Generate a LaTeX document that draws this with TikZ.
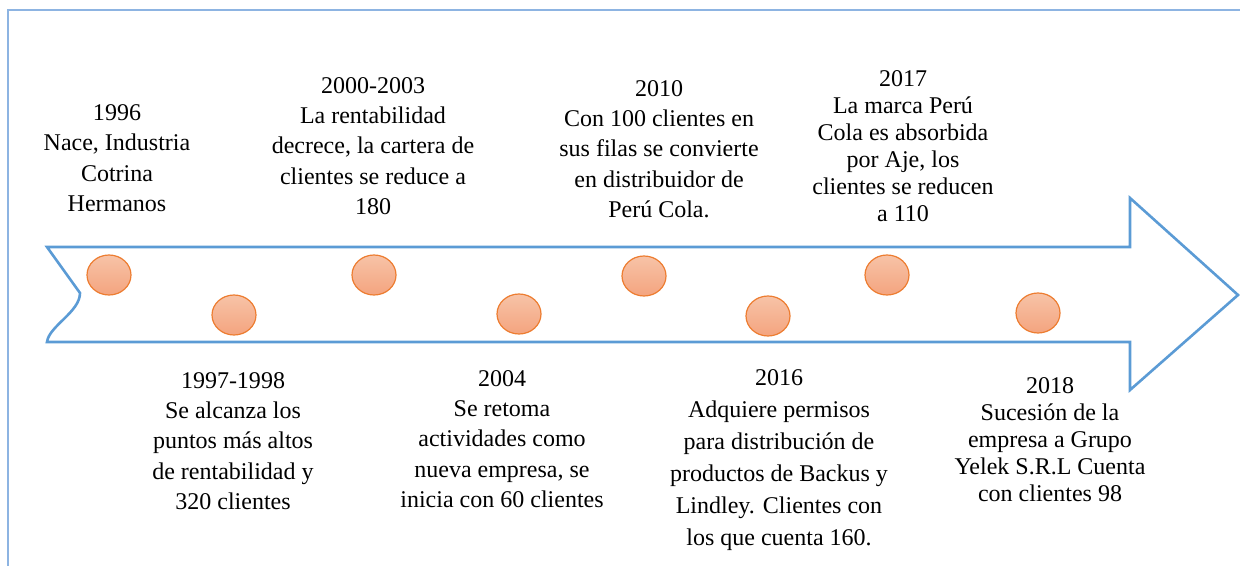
\documentclass[tikz,border=0pt]{standalone}
\usepackage{fontspec}
\setmainfont{Liberation Serif}
\usetikzlibrary{shapes.geometric}
\definecolor{arrowblue}{HTML}{5B9BD5}
\definecolor{frameblue}{HTML}{8DB4E2}
\definecolor{dotline}{HTML}{ED7D31}
\definecolor{dottop}{HTML}{F7C3A7}
\definecolor{dotbottom}{HTML}{F4A47F}

\begin{document}
\begin{tikzpicture}[x=0.5pt, y=-0.5pt,
  dot/.style={ellipse, draw=dotline, line width=0.6pt, top color=dottop, bottom color=dotbottom, minimum width=22pt, minimum height=20pt, inner sep=0pt},
  event/.style={align=center, font=\fontsize{12}{15.2}\selectfont, inner sep=0pt},
  tight/.style={font=\fontsize{12}{13.5}\selectfont}]
\useasboundingbox (0,0) rectangle (1240,566);
\draw[frameblue, line width=1pt] (8,566) -- (8,10) -- (1240,10);
\draw[arrowblue, line width=1.3pt] (47,247) -- (1130,247) -- (1130,198) -- (1238,295) -- (1130,390) -- (1130,342) -- (47,342) .. controls (49,326) and (80,312) .. (80,293) -- cycle;
\node[dot] (d1996) at (109,275) {};
\node[dot] (d1997) at (234,315) {};
\node[dot] (d2000) at (374,275) {};
\node[dot] (d2004) at (519,314) {};
\node[dot] (d2010) at (644,276) {};
\node[dot] (d2016) at (768,316) {};
\node[dot] (d2017) at (887,275) {};
\node[dot] (d2018) at (1038,313) {};
\node[event] (y1996) at (117,158) {1996\\Nace, Industria\\Cotrina\\Hermanos};
\node[event] (y2000) at (373,146) {2000-2003\\La rentabilidad\\decrece, la cartera de\\clientes se reduce a\\180};
\node[event] (y2010) at (659,149) {2010\\Con 100 clientes en\\sus filas se convierte\\en distribuidor de\\Perú Cola.};
\node[event, tight] (y2017) at (903,146) {2017\\La marca Perú\\Cola es absorbida\\por Aje, los\\clientes se reducen\\a 110};
\node[event] (y1997) at (233,441) {1997-1998\\Se alcanza los\\puntos más altos\\de rentabilidad y\\320 clientes};
\node[event] (y2004) at (502,439) {2004\\Se retoma\\actividades como\\nueva empresa, se\\inicia con 60 clientes};
\node[event, font=\fontsize{12}{16}\selectfont] (y2016) at (779,460) {2016\\Adquiere permisos\\para distribución de\\productos de Backus y\\Lindley. Clientes con\\los que cuenta 160.};
\node[event, tight] (y2018) at (1050,440) {2018\\Sucesión de la\\empresa a Grupo\\Yelek S.R.L Cuenta\\con clientes 98};
\end{tikzpicture}
\end{document}
